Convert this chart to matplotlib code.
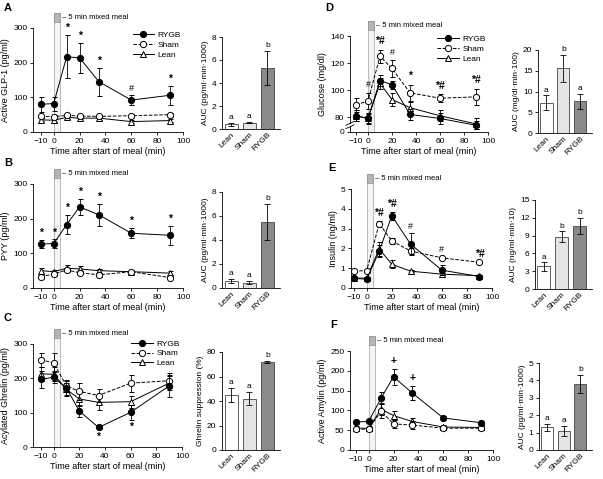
import numpy as np
import matplotlib
matplotlib.use('Agg')
import matplotlib.pyplot as plt
from matplotlib.patches import Rectangle
from matplotlib.lines import Line2D
from matplotlib.transforms import blended_transform_factory

plt.rcParams['font.family'] = ['Liberation Sans', 'DejaVu Sans']
plt.rcParams['font.size'] = 6
plt.rcParams['axes.linewidth'] = 0.6
plt.rcParams['xtick.major.width'] = 0.6
plt.rcParams['ytick.major.width'] = 0.6
plt.rcParams['xtick.major.size'] = 2.5
plt.rcParams['ytick.major.size'] = 2.5
plt.rcParams['xtick.labelsize'] = 6
plt.rcParams['ytick.labelsize'] = 6

W, H = 603, 479

times = [-10, 0, 10, 20, 35, 60, 90]
groups = ['Lean', 'Sham', 'RYGB']

# A - GLP-1
glp_rygb = [80, 82, 217, 214, 145, 92, 106]
glp_rygb_err = [22, 20, 62, 43, 40, 15, 27]
glp_sham = [45, 44, 48, 46, 45, 47, 50]
glp_sham_err = [5, 4, 5, 4, 4, 4, 6]
glp_lean = [35, 34, 42, 40, 40, 30, 33]
glp_lean_err = [4, 4, 4, 3, 4, 4, 4]
glp_marks = [('*', 10), ('*', 20), ('*', 35), ('#', 60), ('*', 90)]
glp_auc = [0.4, 0.55, 5.3]
glp_auc_err = [0.15, 0.05, 1.5]
glp_letters = ['a', 'a', 'b']

# B - PYY
pyy_rygb = [127, 128, 183, 234, 211, 158, 152]
pyy_rygb_err = [12, 12, 28, 23, 32, 14, 27]
pyy_sham = [33, 40, 52, 44, 38, 47, 30]
pyy_sham_err = [5, 5, 6, 5, 5, 5, 5]
pyy_lean = [50, 47, 57, 55, 50, 47, 43]
pyy_lean_err = [7, 6, 8, 8, 6, 5, 5]
pyy_marks = [('*', -10), ('*', 0), ('*', 10), ('*', 20), ('*', 35), ('*', 60), ('*', 90)]
pyy_auc = [0.6, 0.45, 5.5]
pyy_auc_err = [0.15, 0.15, 1.5]
pyy_letters = ['a', 'a', 'b']

# C - Ghrelin
ghr_rygb = [197, 203, 172, 105, 57, 101, 178]
ghr_rygb_err = [25, 18, 20, 18, 6, 22, 32]
ghr_sham = [254, 245, 178, 162, 150, 186, 193]
ghr_sham_err = [20, 28, 18, 25, 18, 25, 22]
ghr_lean = [213, 212, 168, 140, 130, 132, 186]
ghr_lean_err = [20, 20, 18, 22, 22, 18, 20]
ghr_marks = [('*', 35), ('*', 60)]
ghr_supp = [45, 42, 72]
ghr_supp_err = [6, 5, 1]
ghr_letters = ['a', 'a', 'b']

# D - Glucose
glu_rygb = [81, 79, 107, 104, 82, 79, 74]
glu_rygb_err = [4, 4, 4, 3, 4, 4, 3]
glu_sham = [89, 92, 125, 116, 98, 94, 95]
glu_sham_err = [5, 6, 5, 6, 6, 3, 6]
glu_lean = [81, 79, 105, 93, 87, 81, 75]
glu_lean_err = [4, 3, 4, 5, 4, 4, 4]
glu_marks = [('#', 0), ('*#', 10), ('#', 20), ('*', 35), ('*#', 60), ('*#', 90)]
glu_auc = [7.3, 15.6, 7.6]
glu_auc_err = [1.8, 3.3, 1.8]
glu_letters = ['a', 'b', 'a']

# E - Insulin
ins_rygb = [0.48, 0.45, 1.85, 3.65, 2.22, 0.9, 0.58]
ins_rygb_err = [0.05, 0.05, 0.3, 0.2, 0.55, 0.25, 0.05]
ins_sham = [0.85, 0.88, 3.25, 2.38, 1.87, 1.52, 1.3]
ins_sham_err = [0.05, 0.05, 0.15, 0.15, 0.15, 0.05, 0.05]
ins_lean = [0.5, 0.5, 1.98, 1.2, 0.85, 0.7, 0.62]
ins_lean_err = [0.05, 0.05, 0.35, 0.2, 0.05, 0.05, 0.05]
ins_marks = [('*#', 10), ('*#', 20), ('#', 35), ('#', 60), ('*#', 90)]
ins_auc = [3.8, 8.8, 10.6]
ins_auc_err = [0.7, 0.9, 1.4]
ins_letters = ['a', 'b', 'b']

# F - Amylin
amy_rygb = [71, 72, 131, 185, 144, 81, 69]
amy_rygb_err = [6, 5, 15, 20, 18, 6, 5]
amy_sham = [52, 53, 98, 66, 63, 55, 55]
amy_sham_err = [5, 5, 18, 10, 10, 5, 5]
amy_lean = [55, 55, 103, 87, 72, 58, 57]
amy_lean_err = [5, 5, 15, 12, 8, 5, 5]
amy_marks = [('+', 20), ('+', 35)]
amy_auc = [1.3, 1.1, 3.8]
amy_auc_err = [0.2, 0.3, 0.5]
amy_letters = ['a', 'a', 'b']

bar_colors = ['white', '#e4e4e4', '#8a8a8a']


def px_axes(fig, x0, y0, x1, y1):
    return fig.add_axes([x0 / W, 1 - y1 / H, (x1 - x0) / W, (y1 - y0) / H])


def clean(ax):
    ax.spines['top'].set_visible(False)
    ax.spines['right'].set_visible(False)


def line_panel(ax, rygb, rygb_e, sham, sham_e, lean, lean_e, ylim, yticks, ylabel,
               marks, off, h_px, legend_y=None, below=False, xlim=(-16, 100)):
    clean(ax)
    # bande du repas (0-5 min)
    tr = blended_transform_factory(ax.transData, ax.transAxes)
    top = 1 + 15 / h_px
    ax.add_patch(Rectangle((0, 0), 5, top, transform=tr, facecolor='#f4f4f4',
                           edgecolor='#b0b0b0', lw=0.6, clip_on=False, zorder=0))
    ax.add_patch(Rectangle((0, 1 + 6 / h_px), 5, 9 / h_px, transform=tr, facecolor='#b5b5b5',
                           edgecolor='#909090', lw=0.5, clip_on=False, zorder=1))
    ax.text(6.5, 1 + 10.5 / h_px, '\u2013 5 min mixed meal', transform=tr, fontsize=5.5,
            va='center', ha='left')
    kw = dict(capsize=1.8, elinewidth=0.6, capthick=0.6, lw=0.7, ms=4.5, color='black',
              markeredgewidth=0.7)
    ax.errorbar(times, lean, yerr=lean_e, fmt='-^', mfc='white', zorder=3, **kw)
    ax.errorbar(times, sham, yerr=sham_e, fmt='--o', mfc='white', zorder=4, **kw)
    ax.errorbar(times, rygb, yerr=rygb_e, fmt='-o', mfc='black', zorder=5, **kw)
    ax.set_xlim(*xlim)
    ax.set_ylim(*ylim)
    ax.set_xticks([-10, 0, 20, 40, 60, 80, 100])
    ax.set_yticks(yticks)
    ax.set_xlabel('Time after start of meal (min)', fontsize=6.5, labelpad=2)
    ax.set_ylabel(ylabel, fontsize=6.5, labelpad=2)
    ax.tick_params(pad=1.5)
    series = [(rygb, rygb_e), (sham, sham_e), (lean, lean_e)]
    for sym, t in marks:
        i = times.index(t)
        if below:
            y = min(s[i] - e[i] for s, e in series) - off
            va = 'top'
        else:
            y = max(s[i] + e[i] for s, e in series) + off
            va = 'bottom'
        ax.text(t, y, sym, ha='center', va=va, fontsize=7.5 if sym != '#' else 6.5,
                fontweight='bold' if sym != '#' else 'normal')
    if legend_y is not None:
        lkw = dict(color='black', lw=0.7, ms=4.5, markeredgewidth=0.7)
        handles = [Line2D([], [], ls='-', marker='o', mfc='black', **lkw),
                   Line2D([], [], ls='--', marker='o', mfc='white', **lkw),
                   Line2D([], [], ls='-', marker='^', mfc='white', **lkw)]
        ax.legend(handles, ['RYGB', 'Sham', 'Lean'], loc='upper right',
                  bbox_to_anchor=(1.02, legend_y), frameon=False, fontsize=6, handlelength=2.6,
                  handletextpad=0.4, labelspacing=0.25, borderaxespad=0.2)


def bar_panel(ax, vals, errs, letters, ylim, yticks, ylabel):
    clean(ax)
    x = np.arange(3)
    ax.bar(x, vals, width=0.72, color=bar_colors, edgecolor='#444444', lw=0.6,
           yerr=errs, capsize=2.5, error_kw=dict(elinewidth=0.6, capthick=0.6))
    pad = (ylim[1] - ylim[0]) * 0.02
    for xi, v, e, let in zip(x, vals, errs, letters):
        ax.text(xi, v + e + pad, let, ha='center', va='bottom', fontsize=6)
    ax.set_xlim(-0.5, 2.7)
    ax.set_ylim(*ylim)
    ax.set_yticks(yticks)
    ax.set_xticks(x)
    ax.set_xticklabels(groups, rotation=45, ha='right', rotation_mode='anchor', fontsize=6)
    ax.set_ylabel(ylabel, fontsize=6, labelpad=2)
    ax.tick_params(pad=1.5)
    ax.tick_params(axis='x', length=0)


fig = plt.figure(figsize=(W / 100, H / 100), dpi=100)

# A
ax = px_axes(fig, 33, 28, 183, 132)
line_panel(ax, glp_rygb, glp_rygb_err, glp_sham, glp_sham_err, glp_lean, glp_lean_err,
           (0, 300), [0, 100, 200, 300], 'Active GLP-1 (pg/ml)', glp_marks, 6, 104, legend_y=1.02)
ax = px_axes(fig, 222, 37, 280, 129)
bar_panel(ax, glp_auc, glp_auc_err, glp_letters, (0, 8), [0, 2, 4, 6, 8], 'AUC (pg/ml\u00b7min\u00b71000)')

# B
ax = px_axes(fig, 33, 184, 183, 288)
line_panel(ax, pyy_rygb, pyy_rygb_err, pyy_sham, pyy_sham_err, pyy_lean, pyy_lean_err,
           (0, 300), [0, 100, 200, 300], 'PYY (pg/ml)', pyy_marks, 6, 104)
ax = px_axes(fig, 222, 192, 280, 288)
bar_panel(ax, pyy_auc, pyy_auc_err, pyy_letters, (0, 8), [0, 2, 4, 6, 8], 'AUC (pg/ml\u00b7min\u00b71000)')

# C
ax = px_axes(fig, 33, 344, 182, 447)
line_panel(ax, ghr_rygb, ghr_rygb_err, ghr_sham, ghr_sham_err, ghr_lean, ghr_lean_err,
           (0, 300), [0, 100, 200, 300], 'Acylated Ghrelin (pg/ml)', ghr_marks, 6, 103,
           legend_y=1.09, below=True)
ax = px_axes(fig, 222, 352, 280, 450)
bar_panel(ax, ghr_supp, ghr_supp_err, ghr_letters, (0, 80), [0, 20, 40, 60, 80], 'Ghrelin suppression (%)')

# D
ax = px_axes(fig, 350, 36, 488, 132)
line_panel(ax, glu_rygb, glu_rygb_err, glu_sham, glu_sham_err, glu_lean, glu_lean_err,
           (69, 140), [69, 80, 100, 120, 140], 'Glucose (mg/dl)', glu_marks, 2.5, 96,
           legend_y=1.06, xlim=(-15, 100))
ax.set_yticklabels(['0', '80', '100', '120', '140'])
# coupure de l'axe y
ax.add_patch(Rectangle((-0.02, 0.06), 0.04, 0.025, transform=ax.transAxes, facecolor='white',
                       edgecolor='none', clip_on=False, zorder=9))
for yb in (0.055, 0.09):
    ax.plot([-0.03, 0.03], [yb - 0.02, yb + 0.02], transform=ax.transAxes, color='black',
            lw=0.6, clip_on=False, zorder=10)
ax = px_axes(fig, 538, 50, 592, 133)
bar_panel(ax, glu_auc, glu_auc_err, glu_letters, (0, 20), [0, 5, 10, 15, 20], 'AUC (mg/dl\u00b7min\u00b7100)')

# E
ax = px_axes(fig, 351, 189, 492, 288)
line_panel(ax, ins_rygb, ins_rygb_err, ins_sham, ins_sham_err, ins_lean, ins_lean_err,
           (0, 5), [0, 1, 2, 3, 4, 5], 'Insulin (ng/ml)', ins_marks, 0.13, 99, xlim=(-12.5, 100))
ax = px_axes(fig, 535, 200, 592, 289)
bar_panel(ax, ins_auc, ins_auc_err, ins_letters, (0, 15), [0, 3, 6, 9, 12, 15], 'AUC (ng/ml\u00b7min\u00b710)')

# F
ax = px_axes(fig, 350, 351, 493, 450)
line_panel(ax, amy_rygb, amy_rygb_err, amy_sham, amy_sham_err, amy_lean, amy_lean_err,
           (0, 250), [0, 50, 100, 150, 200, 250], 'Active Amylin (pg/ml)', amy_marks, 8, 99,
           xlim=(-15, 100))
ax = px_axes(fig, 539, 363, 592, 450)
bar_panel(ax, amy_auc, amy_auc_err, amy_letters, (0, 5), [0, 1, 2, 3, 4, 5], 'AUC (pg/ml\u00b7min\u00b71000)')

# lettres des panneaux
for let, x, y in [('A', 4, 8), ('B', 4, 163), ('C', 4, 318),
                  ('D', 325, 8), ('E', 328, 168), ('F', 330, 325)]:
    fig.text(x / W, 1 - y / H, let, fontsize=8, fontweight='bold', va='center', ha='left')

fig.savefig('out.png', dpi=100)
